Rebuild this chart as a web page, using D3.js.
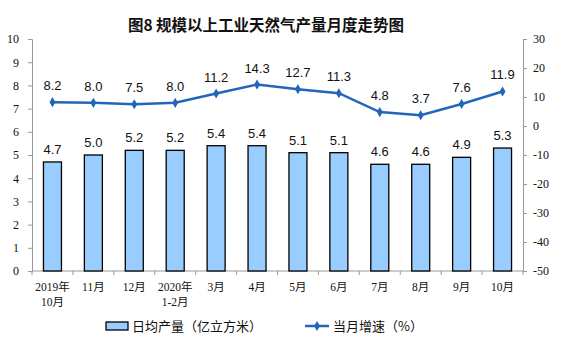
<!DOCTYPE html>
<html><head><meta charset="utf-8">
<script src="https://cdn.jsdelivr.net/npm/d3@7"></script>
<style>body{margin:0;background:#fff}svg{display:block}</style>
</head><body>
<svg id="c" width="561" height="357"></svg>
<script>
const categories = ["2019年\n10月","11月","12月","2020年\n1-2月","3月","4月","5月","6月","7月","8月","9月","10月"];
const output = [4.7,5.0,5.2,5.2,5.4,5.4,5.1,5.1,4.6,4.6,4.9,5.3];
const growth = [8.2,8.0,7.5,8.0,11.2,14.3,12.7,11.3,4.8,3.7,7.6,11.9];
const leftTicks = [0,1,2,3,4,5,6,7,8,9,10];
const rightTicks = [-50,-40,-30,-20,-10,0,10,20,30];

const svg = d3.select("#c");
const L=32, R=523, T=39, B=271;
const x = d3.scaleBand().domain(d3.range(categories.length)).range([L,R]).paddingInner(0.56).paddingOuter(0.28);
const xs = d3.scaleBand().domain(d3.range(categories.length)).range([L,R]);
const yL = d3.scaleLinear().domain([0,10]).range([B,T]);
const yR = d3.scaleLinear().domain([-50,30]).range([B,T]);
const serif = "'Liberation Serif','Noto Sans CJK SC',serif";
const sans = "'Liberation Sans',Arial,sans-serif";
const axisColor = "#999";

svg.append("text").attr("x",266).attr("y",31).attr("text-anchor","middle")
  .attr("font-family","'Noto Sans CJK SC',sans-serif").attr("font-weight","bold").attr("font-size",15.5).attr("fill","#111")
  .text("图8  规模以上工业天然气产量月度走势图");

// left axis
const gL = svg.append("g").attr("transform",`translate(${L},0)`)
  .call(d3.axisLeft(yL).tickValues(leftTicks).tickSize(4).tickPadding(9).tickFormat(d=>String(d)));
// right axis
const gR = svg.append("g").attr("transform",`translate(${R},0)`)
  .call(d3.axisRight(yR).tickValues(rightTicks).tickSize(4).tickPadding(9).tickFormat(d=>String(d)));
[gL,gR].forEach(g=>{
  g.select(".domain").attr("stroke",axisColor);
  g.selectAll(".tick line").attr("stroke",axisColor);
  g.selectAll(".tick text").attr("font-family",serif).attr("font-size",12).attr("fill","#111");
});
gR.selectAll(".tick text").attr("x",10);

// x axis
svg.append("line").attr("x1",L).attr("x2",R).attr("y1",B).attr("y2",B).attr("stroke",axisColor);
svg.selectAll(".xt").data(d3.range(categories.length+1)).join("line")
  .attr("x1",i=>L+i*xs.step()).attr("x2",i=>L+i*xs.step()).attr("y1",B).attr("y2",B+4).attr("stroke",axisColor);

const xl = svg.selectAll(".xl").data(categories).join("text")
  .attr("text-anchor","middle").attr("font-family",serif).attr("font-size",11.5).attr("fill","#111");
xl.each(function(d,i){
  const t=d3.select(this);
  d.split("\n").forEach((s,k)=>t.append("tspan").attr("x",xs(i)+xs.bandwidth()/2).attr("y",291+k*15).text(s));
});

// bars
svg.selectAll(".bar").data(output).join("rect")
  .attr("x",(d,i)=>x(i)).attr("width",x.bandwidth())
  .attr("y",d=>yL(d)).attr("height",d=>yL(0)-yL(d))
  .attr("fill","#99ccff").attr("stroke","#000").attr("stroke-width",1.3);
svg.selectAll(".bl").data(output).join("text")
  .attr("x",(d,i)=>x(i)+x.bandwidth()/2).attr("y",d=>yL(d)-8)
  .attr("text-anchor","middle").attr("font-family",sans).attr("font-size",13).attr("fill","#111")
  .text(d=>d.toFixed(1));

// line
const cx = i=>xs(i)+xs.bandwidth()/2;
svg.append("path").datum(growth)
  .attr("d",d3.line().x((d,i)=>cx(i)).y(d=>yR(d)))
  .attr("fill","none").attr("stroke","#2266bb").attr("stroke-width",2.5);
svg.selectAll(".pt").data(growth).join("path")
  .attr("transform",(d,i)=>`translate(${cx(i)},${yR(d)})`)
  .attr("d",d3.symbol(d3.symbolDiamond,30)).attr("fill","#2266bb");
svg.selectAll(".ll").data(growth).join("text")
  .attr("x",(d,i)=>cx(i)).attr("y",d=>yR(d)-12)
  .attr("text-anchor","middle").attr("font-family",sans).attr("font-size",13).attr("fill","#111")
  .text(d=>d.toFixed(1));

// legend
svg.append("rect").attr("x",106).attr("y",322).attr("width",22).attr("height",8)
  .attr("fill","#99ccff").attr("stroke","#000").attr("stroke-width",1.3);
svg.append("text").attr("x",132).attr("y",331).attr("font-family","'Noto Sans CJK SC',sans-serif").attr("font-size",13).attr("fill","#111")
  .text("日均产量（亿立方米）");
svg.append("line").attr("x1",305).attr("x2",329).attr("y1",326).attr("y2",326).attr("stroke","#2266bb").attr("stroke-width",2.5);
svg.append("path").attr("transform","translate(317,326)").attr("d",d3.symbol(d3.symbolDiamond,30)).attr("fill","#2266bb");
svg.append("text").attr("x",333).attr("y",331).attr("font-family","'Noto Sans CJK SC',sans-serif").attr("font-size",13).attr("fill","#111")
  .text("当月增速（%）");
</script>
</body></html>
